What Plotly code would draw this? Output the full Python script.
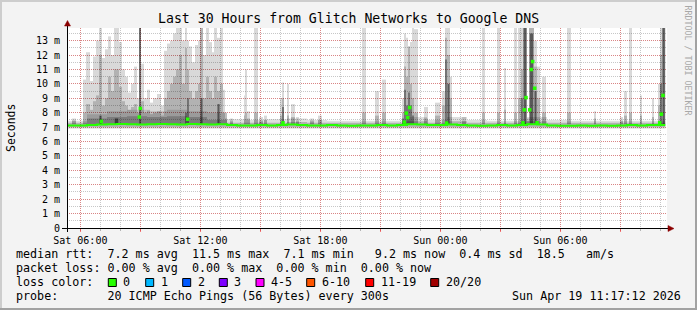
import plotly.graph_objects as go
import pandas as pd

# ---------------- data ----------------
START = "2026-04-18 05:20"
END = "2026-04-19 11:20"
Y_TOP = 13.88

# smoke spikes: start time, duration (min), max (light), upper spread (mid), dense core (dark)  [ms]
spike_start = [
    "2026-04-18 05:35", "2026-04-18 06:08", "2026-04-18 06:17", "2026-04-18 06:29", "2026-04-18 06:38",
    "2026-04-18 06:47", "2026-04-18 06:56", "2026-04-18 07:05", "2026-04-18 07:14", "2026-04-18 07:23",
    "2026-04-18 07:32", "2026-04-18 07:41", "2026-04-18 07:56", "2026-04-18 08:05", "2026-04-18 08:14",
    "2026-04-18 08:23", "2026-04-18 08:32", "2026-04-18 08:41", "2026-04-18 08:50", "2026-04-18 08:56",
    "2026-04-18 09:02", "2026-04-18 09:11", "2026-04-18 09:20", "2026-04-18 09:29", "2026-04-18 09:38",
    "2026-04-18 09:50", "2026-04-18 10:02", "2026-04-18 10:11", "2026-04-18 10:20", "2026-04-18 10:29",
    "2026-04-18 10:38", "2026-04-18 10:47", "2026-04-18 10:56", "2026-04-18 11:05", "2026-04-18 11:14",
    "2026-04-18 11:20", "2026-04-18 11:26", "2026-04-18 11:35", "2026-04-18 11:44", "2026-04-18 11:53",
    "2026-04-18 11:59", "2026-04-18 12:08", "2026-04-18 12:17", "2026-04-18 12:26", "2026-04-18 12:35",
    "2026-04-18 12:41", "2026-04-18 12:50", "2026-04-18 12:59", "2026-04-18 13:08", "2026-04-18 13:14",
    "2026-04-18 13:29", "2026-04-18 14:11", "2026-04-18 14:14", "2026-04-18 14:20", "2026-04-18 14:41",
    "2026-04-18 14:56", "2026-04-18 15:11", "2026-04-18 15:59", "2026-04-18 16:05", "2026-04-18 16:20",
    "2026-04-18 16:32", "2026-04-18 16:47", "2026-04-18 17:29", "2026-04-18 17:53", "2026-04-18 20:05",
    "2026-04-18 20:44", "2026-04-18 21:05", "2026-04-18 22:05", "2026-04-18 22:11", "2026-04-18 22:17",
    "2026-04-18 22:23", "2026-04-18 22:29", "2026-04-18 22:35", "2026-04-18 22:41", "2026-04-18 23:11",
    "2026-04-18 23:44", "2026-04-19 00:05", "2026-04-19 00:14", "2026-04-19 00:20", "2026-04-19 00:29",
    "2026-04-19 01:05", "2026-04-19 02:05", "2026-04-19 02:50", "2026-04-19 03:11", "2026-04-19 03:41",
    "2026-04-19 03:53", "2026-04-19 04:02", "2026-04-19 04:08", "2026-04-19 04:20", "2026-04-19 04:26",
    "2026-04-19 04:41", "2026-04-19 04:50", "2026-04-19 05:05", "2026-04-19 06:20", "2026-04-19 07:41",
    "2026-04-19 08:59", "2026-04-19 09:11", "2026-04-19 09:26", "2026-04-19 09:59", "2026-04-19 10:35",
    "2026-04-19 10:53", "2026-04-19 10:59", "2026-04-19 11:05",
]
spike_minutes = [
    12, 9, 12, 9, 9, 9, 9, 9, 9, 9,
    9, 15, 9, 9, 9, 9, 9, 9, 6, 6,
    9, 9, 9, 9, 12, 12, 9, 9, 9, 9,
    9, 9, 9, 9, 6, 6, 9, 9, 9, 6,
    9, 9, 9, 9, 6, 9, 9, 9, 6, 6,
    9, 3, 6, 9, 12, 12, 9, 6, 6, 6,
    12, 9, 12, 12, 12, 12, 12, 6, 6, 6,
    6, 6, 6, 12, 12, 15, 9, 6, 9, 6,
    12, 9, 9, 6, 9, 9, 6, 12, 6, 15,
    9, 9, 12, 12, 6, 9, 9, 9, 6, 6,
    6, 6, 10,
]
spike_max = [
    7.6, 10.3, 12.2, 10.2, 11.9, 13.0, 13.9, 11.8, 12.4, 13.3,
    12.0, 13.9, 12.9, 11.0, 10.5, 9.4, 10.0, 11.2, 9.0, 13.9,
    11.4, 9.0, 9.6, 8.7, 9.0, 9.3, 8.5, 12.3, 12.8, 13.0,
    13.5, 13.9, 13.9, 13.0, 13.9, 13.0, 12.6, 11.5, 12.7, 13.0,
    13.9, 12.0, 13.9, 12.9, 12.2, 13.9, 13.2, 13.9, 9.6, 8.0,
    7.6, 9.2, 11.0, 8.1, 13.9, 7.7, 7.8, 9.0, 10.1, 10.0,
    8.6, 7.7, 7.6, 7.8, 13.9, 9.5, 10.3, 9.0, 13.5, 13.2,
    12.6, 12.9, 13.9, 13.8, 8.4, 8.7, 9.5, 13.9, 13.9, 10.5,
    7.7, 13.9, 13.9, 11.1, 13.9, 13.9, 13.9, 13.9, 7.6, 13.9,
    13.0, 11.2, 10.5, 13.9, 8.1, 7.7, 9.5, 13.9, 9.2, 9.0,
    10.0, 13.9, 13.9,
]
spike_mid = [
    7.45, 8.0, 8.6, 8.2, 8.8, 9.2, 12.0, 8.5, 9.0, 10.5,
    9.5, 11.0, 9.8, 8.8, 8.5, 8.2, 8.4, 8.6, 8.0, 13.9,
    8.8, 8.0, 8.2, 7.9, 8.0, 8.1, 7.8, 9.0, 9.5, 10.0,
    10.5, 11.0, 12.0, 10.0, 12.5, 11.0, 9.5, 9.0, 9.5, 10.0,
    13.9, 9.0, 10.5, 9.5, 9.0, 10.5, 9.5, 10.0, 8.0, 7.6,
    7.4, 7.8, 8.0, 7.6, 8.0, 7.4, 7.5, 7.8, 9.0, 7.8,
    7.7, 7.4, 7.4, 7.5, 8.0, 7.8, 8.0, 8.0, 11.2, 10.5,
    12.6, 10.0, 9.0, 8.0, 7.6, 7.8, 8.5, 13.2, 12.0, 9.0,
    7.4, 8.0, 8.0, 8.2, 8.0, 9.0, 11.0, 13.9, 7.4, 13.9,
    11.2, 9.0, 8.0, 8.0, 7.6, 7.4, 7.8, 8.0, 7.8, 7.7,
    8.5, 12.0, 13.9,
]
spike_dark = [
    0, 0, 0, 0, 0, 0, 7.8, 0, 0, 0,
    0, 7.6, 0, 0, 0, 0, 0, 0, 0, 13.9,
    0, 0, 0, 0, 0, 0, 0, 0, 0, 0,
    0, 0, 0, 0, 8.0, 9.0, 0, 0, 0, 0,
    9.0, 0, 0, 0, 0, 0, 8.6, 0, 0, 0,
    0, 0, 0, 0, 0, 0, 0, 0, 8.4, 0,
    0, 0, 0, 0, 0, 0, 0, 7.6, 9.6, 8.5,
    9.4, 8.5, 7.8, 0, 0, 0, 0, 11.7, 10.0, 0,
    0, 0, 0, 0, 0, 0, 9.0, 13.9, 0, 13.5,
    9.5, 0, 0, 0, 0, 0, 0, 0, 0, 0,
    0, 10.0, 13.9,
]

# background smoke band (hourly): outer spread, inner spread, dense lower part
band_time = pd.date_range(START, periods=31, freq="h").strftime("%Y-%m-%d %H:%M").tolist()
band_time[-1] = "2026-04-19 11:15"
band_lo = [6.88] * 31
band_hi = [7.45, 7.9, 8.1, 8.2, 8.1, 8.2, 8.1, 8.0, 7.55, 7.5,
           7.55, 7.6, 7.5, 7.45, 7.45, 7.45, 7.45, 7.7, 7.5, 7.7,
           7.5, 7.45, 7.45, 7.7, 7.5, 7.45, 7.45, 7.45, 7.45, 7.45, 7.6]
core_lo = [7.0] * 31
core_hi = [7.3, 7.6, 7.7, 7.75, 7.7, 7.75, 7.7, 7.5, 7.3, 7.3,
           7.3, 7.35, 7.3, 7.3, 7.3, 7.3, 7.3, 7.4, 7.3, 7.4,
           7.3, 7.3, 7.3, 7.4, 7.3, 7.3, 7.3, 7.3, 7.3, 7.3, 7.35]

# median rtt (30 min)
med_time = pd.date_range(START, periods=61, freq="30min").strftime("%Y-%m-%d %H:%M").tolist()
med_time[-1] = "2026-04-19 11:15"
med_val = [7.12, 7.12, 7.15, 7.18, 7.2, 7.22, 7.2, 7.18, 7.2, 7.22,
           7.2, 7.18, 7.22, 7.2, 7.18, 7.2, 7.15, 7.12, 7.12, 7.15,
           7.12, 7.14, 7.18, 7.15, 7.12, 7.12, 7.14, 7.12, 7.1, 7.12,
           7.12, 7.14, 7.12, 7.15, 7.2, 7.18, 7.15, 7.14, 7.18, 7.15,
           7.12, 7.1, 7.12, 7.14, 7.12, 7.15, 7.2, 7.18, 7.12, 7.1,
           7.1, 7.12, 7.1, 7.12, 7.1, 7.12, 7.14, 7.12, 7.14, 7.15, 7.15]

# median values that jumped away from the baseline
hi_med_time = ["2026-04-18 07:03", "2026-04-18 08:57", "2026-04-18 09:00", "2026-04-18 11:22",
               "2026-04-18 16:08", "2026-04-18 22:12", "2026-04-18 22:18", "2026-04-18 22:22",
               "2026-04-18 22:28", "2026-04-19 00:19", "2026-04-19 04:08", "2026-04-19 04:12",
               "2026-04-19 04:17", "2026-04-19 04:28", "2026-04-19 04:33", "2026-04-19 04:37",
               "2026-04-19 04:43", "2026-04-19 04:50", "2026-04-19 10:58", "2026-04-19 11:03",
               "2026-04-19 11:08"]
hi_med_val = [7.4, 7.7, 8.3, 7.55, 7.3, 7.35, 7.97, 7.66, 8.36, 7.28, 7.3, 8.2,
              9.05, 8.2, 11.0, 11.55, 9.7, 7.3, 7.3, 7.9, 9.2]

x_tickvals = ["2026-04-18 06:00", "2026-04-18 09:00", "2026-04-18 12:00", "2026-04-18 15:00",
              "2026-04-18 18:00", "2026-04-18 21:00", "2026-04-19 00:00", "2026-04-19 03:00",
              "2026-04-19 06:00", "2026-04-19 09:00"]
x_ticktext = ["Sat 06:00", "", "Sat 12:00", "", "Sat 18:00", "", "Sun 00:00", "", "Sun 06:00", ""]
y_tickvals = list(range(14))
y_ticktext = ["0"] + [f"{v} m" for v in range(1, 14)]

loss_labels = ["0", "1", "2", "3", "4-5", "6-10", "11-19", "20/20"]
loss_colors = ["#26ff00", "#00b8ff", "#0059ff", "#7e00ff", "#ff00ff", "#ff5500", "#ff0000", "#a10000"]

title = "Last 30 Hours from Glitch Networks to Google DNS"
legend_rows = [
    "median rtt:  7.2 ms avg  11.5 ms max  7.1 ms min   9.2 ms now  0.4 ms sd  18.5   am/s",
    "packet loss: 0.00 % avg  0.00 % max  0.00 % min  0.00 % now",
    "loss color:",
    "probe:       20 ICMP Echo Pings (56 Bytes) every 300s",
]
stamp = "Sun Apr 19 11:17:12 2026"

# ---------------- figure ----------------
W, H = 697, 310
L, R, T, B = 67, 667, 28, 228
MONO = "DejaVu Sans Mono"


def px(x):
    return (x - L) / (R - L)


def py(y):
    return (B - y) / (B - T)


starts = pd.to_datetime(spike_start)
dur = pd.to_timedelta(spike_minutes, unit="m")
centers = starts + dur / 2
widths = [m * 60000 for m in spike_minutes]
BASE = 7.2

fig = go.Figure()
# background band
fig.add_trace(go.Scatter(x=band_time, y=band_lo, mode="lines", line=dict(width=0, shape="hv"),
                         hoverinfo="skip"))
fig.add_trace(go.Scatter(x=band_time, y=band_hi, mode="lines", line=dict(width=0, shape="hv"),
                         fill="tonexty", fillcolor="rgba(0,0,0,0.13)", hoverinfo="skip"))
fig.add_trace(go.Scatter(x=band_time, y=core_lo, mode="lines", line=dict(width=0, shape="hv"),
                         hoverinfo="skip"))
fig.add_trace(go.Scatter(x=band_time, y=core_hi, mode="lines", line=dict(width=0, shape="hv"),
                         fill="tonexty", fillcolor="rgba(0,0,0,0.2)", hoverinfo="skip"))

# spikes
fig.add_trace(go.Bar(x=centers, y=[v - BASE for v in spike_max], base=BASE, width=widths,
                     marker=dict(color="rgba(0,0,0,0.15)", line=dict(width=0))))
fig.add_trace(go.Bar(x=centers, y=[v - BASE for v in spike_mid], base=BASE, width=widths,
                     marker=dict(color="rgba(0,0,0,0.18)", line=dict(width=0))))
dk = [i for i, v in enumerate(spike_dark) if v > 0]
fig.add_trace(go.Bar(x=[centers[i] for i in dk], y=[spike_dark[i] - BASE for i in dk], base=BASE,
                     width=[widths[i] * 0.7 for i in dk],
                     marker=dict(color="rgba(0,0,0,0.5)", line=dict(width=0))))

# median
fig.add_trace(go.Scatter(x=med_time, y=med_val, mode="lines",
                         line=dict(color="#26ff00", width=2, shape="hv")))
fig.add_trace(go.Scatter(x=hi_med_time, y=hi_med_val, mode="markers",
                         marker=dict(symbol="square", size=3.5, color="#26ff00", line=dict(width=0))))

MAJ = "rgba(255,0,0,0.33)"
MIN = "rgba(0,0,0,0.22)"
fig.update_layout(
    width=W, height=H, autosize=False,
    margin=dict(l=L, r=W - R, t=T, b=H - B, pad=0),
    paper_bgcolor="#f3f3f3", plot_bgcolor="#ffffff",
    showlegend=False, barmode="overlay",
    font=dict(family=MONO, color="#000000", size=10),
    xaxis=dict(type="date", range=[START, END], tickmode="array", tickvals=x_tickvals,
               ticktext=x_ticktext, showgrid=True, gridcolor=MAJ, griddash="1px,1px", gridwidth=1,
               ticks="outside", ticklen=3, tickcolor="rgba(255,0,0,0.5)", showline=False,
               zeroline=False, tickfont=dict(family=MONO, size=10),
               minor=dict(tickmode="linear", tick0="2026-04-18 00:00", dtick=3600000, showgrid=True,
                          gridcolor=MIN, griddash="1px,1px", ticks="outside", ticklen=2,
                          tickcolor="rgba(120,120,120,0.5)")),
    yaxis=dict(range=[0, Y_TOP], tickmode="array", tickvals=y_tickvals, ticktext=y_ticktext,
               showgrid=True, gridcolor=MAJ, griddash="1px,1px", gridwidth=1, zeroline=False,
               ticks="outside", ticklen=4, tickcolor="rgba(0,0,0,0)", showline=False,
               tickfont=dict(family=MONO, size=10),
               minor=dict(tickmode="linear", tick0=0, dtick=0.5, showgrid=True, gridcolor=MIN,
                          griddash="1px,1px")),
)

shapes = []
# frame
shapes.append(dict(type="rect", xref="paper", yref="paper", x0=px(0), x1=px(697), y0=py(0), y1=py(2),
                   fillcolor="#cdcdcd", line=dict(width=0), layer="above"))
shapes.append(dict(type="rect", xref="paper", yref="paper", x0=px(0), x1=px(2), y0=py(0), y1=py(310),
                   fillcolor="#cdcdcd", line=dict(width=0), layer="above"))
shapes.append(dict(type="rect", xref="paper", yref="paper", x0=px(695), x1=px(697), y0=py(0), y1=py(310),
                   fillcolor="#a2a2a2", line=dict(width=0), layer="above"))
shapes.append(dict(type="rect", xref="paper", yref="paper", x0=px(0), x1=px(697), y0=py(308), y1=py(310),
                   fillcolor="#a2a2a2", line=dict(width=0), layer="above"))
# axes with arrows
shapes.append(dict(type="line", xref="paper", yref="paper", x0=px(62), x1=px(669), y0=py(228.5), y1=py(228.5),
                   line=dict(color="#000000", width=1), layer="above"))
shapes.append(dict(type="line", xref="paper", yref="paper", x0=px(67.5), x1=px(67.5), y0=py(232), y1=py(23),
                   line=dict(color="#000000", width=1), layer="above"))
shapes.append(dict(type="path", xref="paper", yref="paper",
                   path=f"M {px(668)} {py(225.5)} L {px(674)} {py(228.5)} L {px(668)} {py(231.5)} Z",
                   fillcolor="#8b0000", line=dict(color="#8b0000", width=0.5), layer="above"))
shapes.append(dict(type="path", xref="paper", yref="paper",
                   path=f"M {px(64.5)} {py(26)} L {px(67.5)} {py(20.5)} L {px(70.5)} {py(26)} Z",
                   fillcolor="#8b0000", line=dict(color="#8b0000", width=0.5), layer="above"))

# loss colour boxes
box_left = [108.3, 145.7, 182.7, 219.3, 256, 306.7, 365.7, 430.7]
for bx, col in zip(box_left, loss_colors):
    shapes.append(dict(type="rect", xref="paper", yref="paper", x0=px(bx), x1=px(bx + 8),
                       y0=py(278.5), y1=py(286.5), fillcolor=col,
                       line=dict(color="#000000", width=1), layer="above"))
fig.update_layout(shapes=shapes)

NB = "\u00a0"
anns = []


def ann(text, x, y, size, xanchor="left", yanchor="middle", color="#000000", angle=0):
    anns.append(dict(text=text.replace(" ", NB), x=px(x), y=py(y), xref="paper", yref="paper",
                     xanchor=xanchor, yanchor=yanchor, showarrow=False, textangle=angle,
                     font=dict(family=MONO, size=size, color=color), borderpad=0))


ann(title, 348.5, 18.5, 13.2, xanchor="center")
ann("Seconds", 11, 128, 11.5, xanchor="center", angle=-90)
ann("RRDTOOL / TOBI OETIKER", 687.5, 60, 8.3, xanchor="center", color="#a8a8a8", angle=90)
rows_y = [254.3, 268.3, 282.3, 296.2]
for txt, yy in zip(legend_rows, rows_y):
    ann(txt, 15, yy, 11.7)
ann(stamp, 681.5, 296.2, 11.7, xanchor="right")
for bx, lab in zip(box_left, loss_labels):
    ann(lab, bx + 14, 282.3, 11.7)
fig.update_layout(annotations=anns)

fig.write_html("out.html")
